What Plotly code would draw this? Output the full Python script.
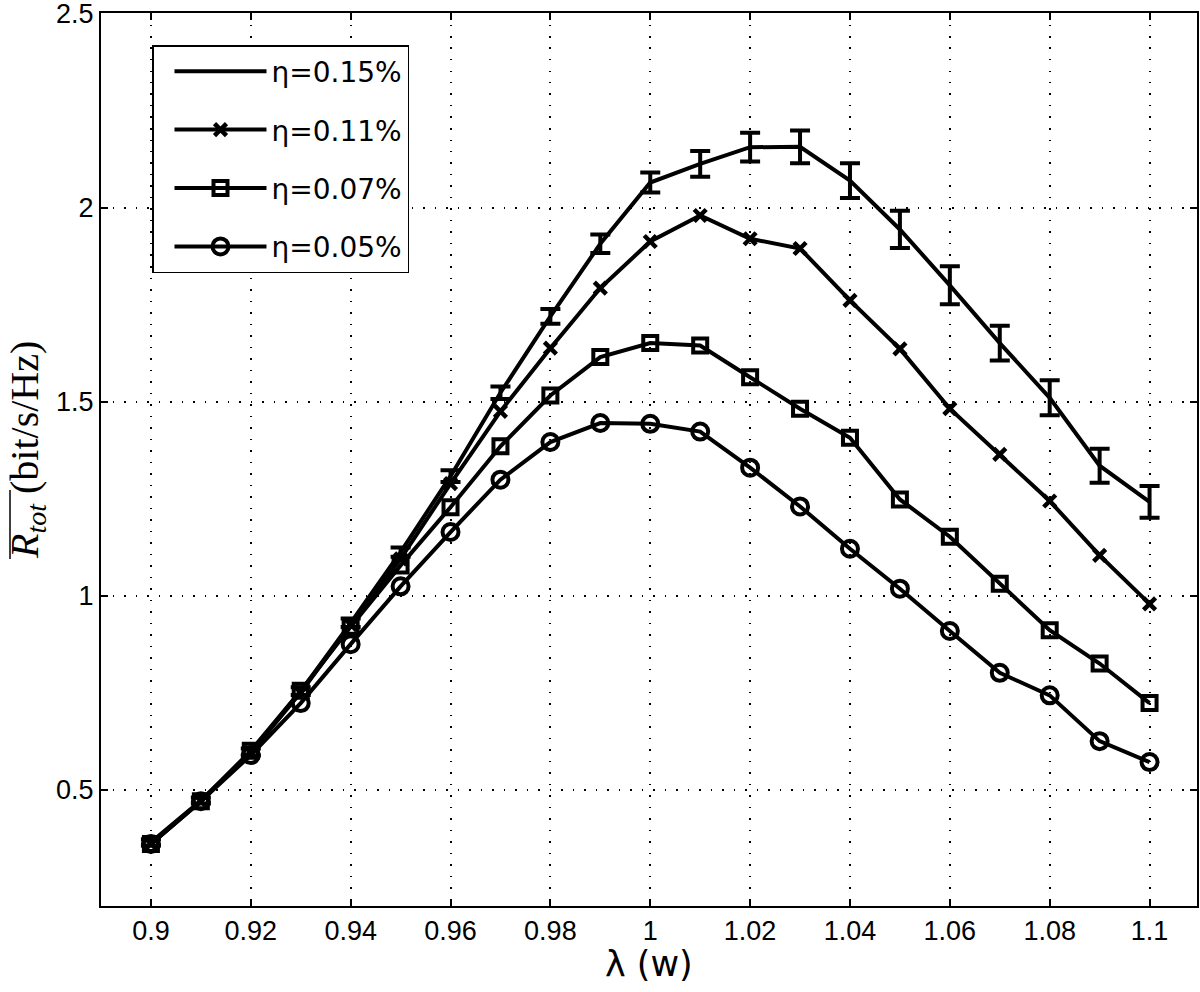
import plotly.graph_objects as go

# ---- data ----
lam = [0.90, 0.91, 0.92, 0.93, 0.94, 0.95, 0.96, 0.97, 0.98, 0.99, 1.00,
       1.01, 1.02, 1.03, 1.04, 1.05, 1.06, 1.07, 1.08, 1.09, 1.10]

r_eta015 = [0.364, 0.472, 0.597, 0.754, 0.930, 1.112, 1.308, 1.523, 1.720, 1.907, 2.065,
            2.113, 2.156, 2.157, 2.070, 1.944, 1.800, 1.651, 1.510, 1.335, 1.242]
err_eta015 = [0.008, 0.008, 0.009, 0.010, 0.011, 0.012, 0.015, 0.016, 0.019, 0.024, 0.026,
              0.033, 0.037, 0.042, 0.045, 0.048, 0.049, 0.045, 0.045, 0.044, 0.041]
r_eta011 = [0.360, 0.470, 0.595, 0.750, 0.925, 1.095, 1.289, 1.475, 1.638, 1.793, 1.913,
            1.980, 1.920, 1.895, 1.761, 1.636, 1.482, 1.364, 1.244, 1.104, 0.979]
r_eta007 = [0.360, 0.470, 0.600, 0.755, 0.920, 1.078, 1.228, 1.385, 1.516, 1.615, 1.651,
            1.645, 1.563, 1.482, 1.407, 1.248, 1.152, 1.031, 0.911, 0.825, 0.723]
r_eta005 = [0.360, 0.470, 0.589, 0.723, 0.875, 1.024, 1.164, 1.299, 1.396, 1.445, 1.443,
            1.423, 1.330, 1.230, 1.121, 1.018, 0.909, 0.801, 0.743, 0.625, 0.571]

series_names = ["η=0.15%", "η=0.11%", "η=0.07%", "η=0.05%"]

x_tickvals = [0.90, 0.92, 0.94, 0.96, 0.98, 1.00, 1.02, 1.04, 1.06, 1.08, 1.10]
x_ticktext = ["0.9", "0.92", "0.94", "0.96", "0.98", "1", "1.02", "1.04", "1.06", "1.08", "1.1"]
y_tickvals = [0.5, 1.0, 1.5, 2.0, 2.5]
y_ticktext = ["0.5", "1", "1.5", "2", "2.5"]

x_title = "λ (w)"
y_title = "<i>R</i><sub><i>tot</i></sub> (bit/s/Hz)"

# ---- figure ----
BLACK = "#000000"
LW = 4
SANS = "Liberation Sans, Arial, sans-serif"
WIDE_SANS = "DejaVu Sans, Verdana, sans-serif"
SERIF = "Liberation Serif, Times New Roman, serif"

fig = go.Figure()

fig.add_trace(go.Scatter(
    x=lam, y=r_eta015, name=series_names[0], legendgroup="a",
    mode="lines", line=dict(color=BLACK, width=LW),
    error_y=dict(type="data", array=err_eta015, visible=True,
                 color=BLACK, thickness=4, width=10),
))
fig.add_trace(go.Scatter(
    x=lam, y=r_eta011, name=series_names[1], legendgroup="b",
    mode="lines+markers", line=dict(color=BLACK, width=LW),
    marker=dict(symbol="x-thin-open", size=12, color=BLACK,
                line=dict(color=BLACK, width=4.5)),
))
fig.add_trace(go.Scatter(
    x=lam, y=r_eta007, name=series_names[2], legendgroup="c",
    mode="lines+markers", line=dict(color=BLACK, width=LW),
    marker=dict(symbol="square-open", size=14, color=BLACK,
                line=dict(color=BLACK, width=4)),
))
fig.add_trace(go.Scatter(
    x=lam, y=r_eta005, name=series_names[3], legendgroup="d",
    mode="lines+markers", line=dict(color=BLACK, width=LW),
    marker=dict(symbol="circle-open", size=16, color=BLACK,
                line=dict(color=BLACK, width=4)),
))

tick_font = dict(family=SANS, size=27, color=BLACK)

# plot area in pixels: x 101..1197, y 13..906
PL, PR, PT, PB = 101, 1197, 13, 906
PW, PH = PR - PL, PB - PT


def px_to_paper_x(px):
    return (px - PL) / PW


def px_to_paper_y(py):
    return 1 - (py - PT) / PH


fig.update_layout(
    width=1200, height=992,
    margin=dict(l=PL, r=1200 - PR, t=PT, b=992 - PB),
    paper_bgcolor="white", plot_bgcolor="white",
    showlegend=True,
    legend=dict(
        x=px_to_paper_x(152), y=px_to_paper_y(45), xanchor="left", yanchor="top",
        bgcolor="white", bordercolor=BLACK, borderwidth=1.5,
        font=dict(family=WIDE_SANS, size=28, color=BLACK),
        tracegroupgap=19, itemwidth=92, indentation=16,
    ),
    xaxis=dict(
        range=[0.89, 1.1095], tickvals=x_tickvals, ticktext=x_ticktext,
        tickfont=tick_font, ticks="inside", ticklen=7, tickwidth=1.5, tickcolor=BLACK,
        showline=True, linecolor=BLACK, linewidth=2, mirror="ticks",
        showgrid=True, gridcolor=BLACK, gridwidth=1.5, griddash="1.5px,10px",
        zeroline=False, automargin=False, ticklabeloverflow="allow",
    ),
    yaxis=dict(
        range=[0.2, 2.502], tickvals=y_tickvals, ticktext=y_ticktext,
        tickfont=tick_font, ticks="inside", ticklen=7, tickwidth=1.5, tickcolor=BLACK,
        showline=True, linecolor=BLACK, linewidth=2, mirror="ticks",
        showgrid=True, gridcolor=BLACK, gridwidth=1.5, griddash="1.5px,10px",
        zeroline=False, automargin=False, ticklabeloverflow="allow",
    ),
    annotations=[
        dict(text=x_title, xref="paper", yref="paper",
             x=0.5, y=px_to_paper_y(964), xanchor="center", yanchor="middle",
             showarrow=False, font=dict(family=WIDE_SANS, size=35, color=BLACK)),
        dict(text=y_title, xref="paper", yref="paper", textangle=-90,
             x=px_to_paper_x(27), y=px_to_paper_y(450), xanchor="center", yanchor="middle",
             showarrow=False, font=dict(family=SERIF, size=40, color=BLACK)),
    ],
    shapes=[
        # overline over R_tot in the y-axis label
        dict(type="line", xref="paper", yref="paper",
             x0=px_to_paper_x(10), x1=px_to_paper_x(10),
             y0=px_to_paper_y(559), y1=px_to_paper_y(490),
             line=dict(color=BLACK, width=1.5)),
    ],
)

fig.write_html(
    "out.html",
    config={"displayModeBar": False},
    post_script="document.body.style.margin='0';document.body.style.overflow='hidden';",
)
